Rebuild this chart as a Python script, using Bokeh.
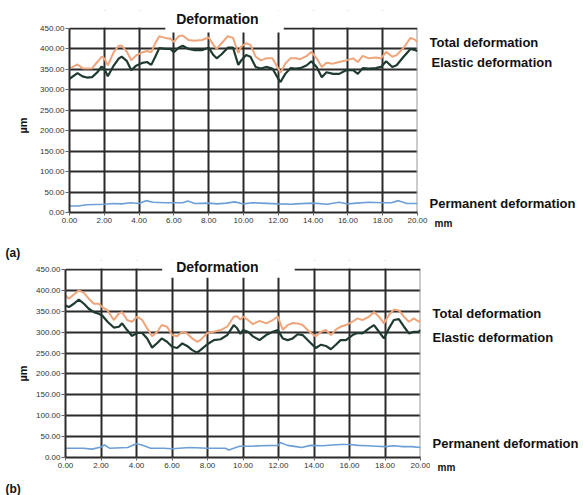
import math
from bokeh.plotting import figure
from bokeh.models import Range1d, FixedTicker, PrintfTickFormatter, Label, BoxAnnotation
from bokeh.layouts import column, row
from bokeh.embed import file_html
from bokeh.resources import INLINE

# ---------------- data ----------------
X_TICKS = [0, 2, 4, 6, 8, 10, 12, 14, 16, 18, 20]
Y_TICKS = [0, 50, 100, 150, 200, 250, 300, 350, 400, 450]

# Panel (a)
a_x = [0, 0.46, 0.75, 1.0, 1.3, 1.6, 1.85, 2.0, 2.2, 2.55, 2.84, 3.0, 3.3, 3.55, 3.8, 4.2, 4.45,
       4.7, 4.93, 5.16, 5.5, 5.8, 6.0, 6.27, 6.5, 6.84, 7.2, 7.6, 8.0, 8.27, 8.46, 8.74, 9.1, 9.4,
       9.7, 9.87, 10.15, 10.4, 10.7, 11.0, 11.3, 11.66, 12.0, 12.13, 12.4, 12.7, 13.0, 13.26,
       13.64, 13.9, 14.2, 14.5, 14.77, 15.15, 15.5, 15.9, 16.3, 16.57, 16.85, 17.2, 17.6, 17.9,
       18.2, 18.55, 18.8, 19.2, 19.6, 19.87, 20.0]
a_elastic = [327, 341, 333, 330, 331, 343, 357, 352, 333, 360, 377, 381, 370, 348, 358, 366, 368,
             361, 381, 402, 400, 400, 392, 403, 408, 400, 397, 397, 403, 385, 377, 387, 403, 403,
             361, 372, 385, 381, 356, 352, 356, 352, 327, 319, 339, 353, 352, 353,
             360, 370, 356, 331, 343, 339, 339, 348, 348, 339, 353, 352, 353, 356,
             370, 356, 360, 381, 400, 397, 395]
a_total = [352, 362, 353, 352, 353, 368, 381, 377, 360, 393, 408, 408, 393, 372, 383, 392, 395,
           392, 414, 431, 427, 425, 417, 431, 433, 422, 420, 422, 428, 410, 400, 414, 431, 427,
           390, 406, 414, 410, 381, 372, 377, 377, 352, 342, 364, 377, 377, 375,
           383, 393, 377, 356, 366, 364, 368, 372, 377, 368, 383, 377, 379, 377,
           393, 381, 385, 403, 427, 422, 417]
a_perm_x = [0, 0.5, 1, 2, 2.5, 3, 3.5, 4, 4.4, 4.8, 5.5, 6, 6.5, 6.8, 7.2, 8, 8.5, 9, 9.5, 10,
            10.5, 11, 12, 12.8, 13, 14, 14.8, 15.5, 16, 16.5, 17.2, 18, 18.5, 18.9, 19.4, 20]
a_perm = [16, 16, 19, 20, 22, 21, 24, 22, 29, 25, 24, 24, 24, 28, 22, 23, 21, 23, 26, 21,
          24, 23, 21, 20, 21, 23, 20, 25, 21, 23, 25, 24, 24, 29, 22, 22]

# Panel (b)
b_x = [0, 0.19, 0.47, 0.75, 1.04, 1.31, 1.6, 1.87, 2.07, 2.37, 2.72, 3.01, 3.19, 3.47, 3.75,
       4.04, 4.32, 4.6, 4.88, 5.17, 5.42, 5.72, 6.01, 6.29, 6.58, 6.85, 7.14, 7.41, 7.6, 7.99,
       8.36, 8.74, 9.11, 9.48, 9.66, 9.85,
       10.0, 10.28, 10.56, 10.93, 11.3, 11.68, 11.96, 12.24, 12.52, 12.8, 13.08, 13.36, 13.74,
       14.1, 14.4, 14.67, 14.95, 15.23, 15.5, 15.8, 16.17, 16.45, 16.73, 17.1, 17.38, 17.66,
       17.94, 18.22, 18.5, 18.78, 19.07, 19.35, 19.63, 19.9, 20.0]
b_elastic = [364, 360, 368, 378, 368, 356, 348, 344, 340, 325, 311, 313, 321, 305, 291,
             298, 298, 285, 263, 274, 285, 277, 265, 262, 273, 267, 257, 251, 257, 271,
             281, 283, 293, 317, 310, 296,
             305, 301, 290, 281, 293, 301, 305, 285, 281, 285, 295, 293, 277,
             262, 270, 267, 259, 270, 281, 281, 293, 298, 297, 309, 317, 301,
             285, 309, 329, 331, 313, 297, 301, 301, 305]
b_total = [388, 380, 390, 400, 394, 380, 368, 368, 360, 352, 329, 345, 348, 329, 325,
           337, 329, 309, 290, 301, 317, 313, 293, 290, 301, 297, 285, 277, 281, 298,
           301, 305, 313, 337, 338, 330,
           337, 329, 319, 327, 321, 329, 337, 306, 317, 322, 321, 317, 301,
           290, 301, 305, 293, 306, 313, 317, 325, 333, 329, 337, 348, 337,
           321, 341, 354, 352, 337, 325, 333, 325, 329]
b_perm_x = [0, 1, 1.5, 2, 2.2, 2.5, 3.5, 4.0, 4.3, 4.8, 5.5, 6, 7, 8, 9, 9.2, 9.8, 10.5, 11, 12,
            12.1, 12.5, 13, 13.3, 13.8, 14.5, 15, 15.5, 16, 16.5, 17, 17.5, 18, 18.5, 19, 19.5, 20]
b_perm = [22, 22, 20, 25, 30, 22, 24, 33, 30, 22, 22, 21, 24, 22, 22, 18, 27, 27, 28, 29,
          36, 29, 26, 24, 29, 28, 30, 31, 31, 29, 28, 27, 26, 28, 26, 26, 24]

TITLE = "Deformation"
LBL_TOTAL = "Total deformation"
LBL_ELASTIC = "Elastic deformation"
LBL_PERM = "Permanent deformation"
X_UNIT = "mm"
Y_UNIT = "\u00b5m"

# ---------------- styling ----------------
FONT = "Liberation Sans"
GRID = "#2b2b2b"
C_TOTAL = "#efa57b"
C_ELASTIC = "#1f3b2f"
C_PERM = "#6c9fd6"
TXT = "#111111"


def main_panel(width, height, borders, y_top, xs, el, tot, px, pv, title_pos, gap, gap_bottom):
    left, right, top, bottom = borders
    p = figure(width=width, height=height, output_backend="svg", toolbar_location=None,
               x_range=Range1d(0, 20), y_range=Range1d(0, y_top), title=None,
               min_border_left=left, min_border_right=right,
               min_border_top=top, min_border_bottom=bottom)
    p.frame_align = False
    p.outline_line_color = None
    p.background_fill_color = "white"
    p.border_fill_color = "white"

    p.xaxis.ticker = FixedTicker(ticks=X_TICKS)
    p.yaxis.ticker = FixedTicker(ticks=Y_TICKS)
    p.yaxis.bounds = (0, 450)
    p.xaxis.formatter = PrintfTickFormatter(format="%.2f")
    p.yaxis.formatter = PrintfTickFormatter(format="%.2f")
    for ax in (p.xaxis, p.yaxis):
        ax.axis_line_color = GRID
        ax.axis_line_width = 2
        ax.major_tick_line_color = "#666666"
        ax.major_tick_in = 0
        ax.minor_tick_line_color = None
        ax.major_label_text_font = FONT
        ax.major_label_text_font_size = "8px"
        ax.major_label_text_color = "#333333"
    p.xaxis.major_tick_out = 3
    p.yaxis.major_tick_out = 4
    p.xaxis.major_label_standoff = 2
    p.yaxis.major_label_standoff = 1

    p.xgrid.ticker = FixedTicker(ticks=X_TICKS[1:-1])
    p.ygrid.ticker = FixedTicker(ticks=Y_TICKS[1:-1])
    for g in (p.xgrid, p.ygrid):
        g.grid_line_color = GRID
        g.grid_line_width = 2

    # right border (light) and top border with a gap for the title
    p.segment(x0=[20], x1=[20], y0=[0], y1=[450], line_color="#9a9a9a", line_width=2)
    p.segment(x0=[0, gap[1]], x1=[gap[0], 20], y0=[450, 450], y1=[450, 450],
              line_color=GRID, line_width=2)

    p.line(xs, tot, line_color=C_TOTAL, line_width=2)
    p.line(xs, el, line_color=C_ELASTIC, line_width=2.2)
    p.line(px, pv, line_color=C_PERM, line_width=1.6)

    # blank the grid above the chart area and around the title
    p.add_layout(BoxAnnotation(left=-1, right=21, bottom=452.6, top=y_top + 50,
                               fill_color="white", fill_alpha=1.0, line_color=None))
    p.add_layout(BoxAnnotation(left=gap[0], right=gap[1], bottom=gap_bottom, top=y_top + 50,
                               fill_color="white", fill_alpha=1.0, line_color=None))
    p.add_layout(Label(x=title_pos[0], y=title_pos[1], text=TITLE, text_font=FONT,
                       text_font_size="14px", text_font_style="bold", text_align="center",
                       text_baseline="middle", text_color=TXT))
    return p


def text_panel(x0, x1, y0, y1, items):
    """A blank figure whose data coordinates are the picture's pixel coordinates."""
    p = figure(width=x1 - x0, height=y1 - y0, output_backend="svg", toolbar_location=None,
               x_range=Range1d(x0, x1), y_range=Range1d(y1, y0), title=None,
               x_axis_location=None, y_axis_location=None, min_border=0)
    p.frame_align = False
    p.outline_line_color = None
    p.grid.visible = False
    p.background_fill_color = "white"
    p.border_fill_color = "white"
    for text, x, y, size, align, angle in items:
        p.add_layout(Label(x=x, y=y, text=text, text_font=FONT, text_font_size=size,
                           text_font_style="bold", text_align=align, text_baseline="middle",
                           angle=angle, text_color=TXT))
    return p


# ---- row (a): picture pixels x 0..583, y 0..260
left_a = text_panel(0, 30, 0, 260, [
    (Y_UNIT, 22, 125, "11px", "center", math.pi / 2),
    ("(a)", 5, 252, "12px", "left", 0.0),
])
main_a = main_panel(399, 260, (39, 12, 10, 48), 494, a_x, a_elastic, a_total, a_perm_x, a_perm,
                    (8.5, 472), (5.52, 12.3), 440)
right_a = text_panel(429, 583, 0, 260, [
    (LBL_TOTAL, 429, 42, "13px", "left", 0.0),
    (LBL_ELASTIC, 431, 62, "13px", "left", 0.0),
    (LBL_PERM, 429, 203, "13px", "left", 0.0),
    (X_UNIT, 434, 223, "10px", "left", 0.0),
])

# ---- row (b): picture pixels y 260..495
left_b = text_panel(0, 30, 260, 495, [
    (Y_UNIT, 22, 373, "11px", "center", math.pi / 2),
    ("(b)", 5, 488, "12px", "left", 0.0),
])
main_b = main_panel(400, 235, (35, 10, 0, 38), 471.5, b_x, b_elastic, b_total, b_perm_x, b_perm,
                    (8.56, 455), (5.46, 12.9), 430)
right_b = text_panel(430, 583, 260, 495, [
    (LBL_TOTAL, 432, 313, "13px", "left", 0.0),
    (LBL_ELASTIC, 432, 337, "13px", "left", 0.0),
    (LBL_PERM, 432, 443, "13px", "left", 0.0),
    (X_UNIT, 437, 467, "10px", "left", 0.0),
])

layout = column(row(left_a, main_a, right_a, spacing=0),
                row(left_b, main_b, right_b, spacing=0), spacing=0)
open("out.html", "w").write(file_html(layout, INLINE))
